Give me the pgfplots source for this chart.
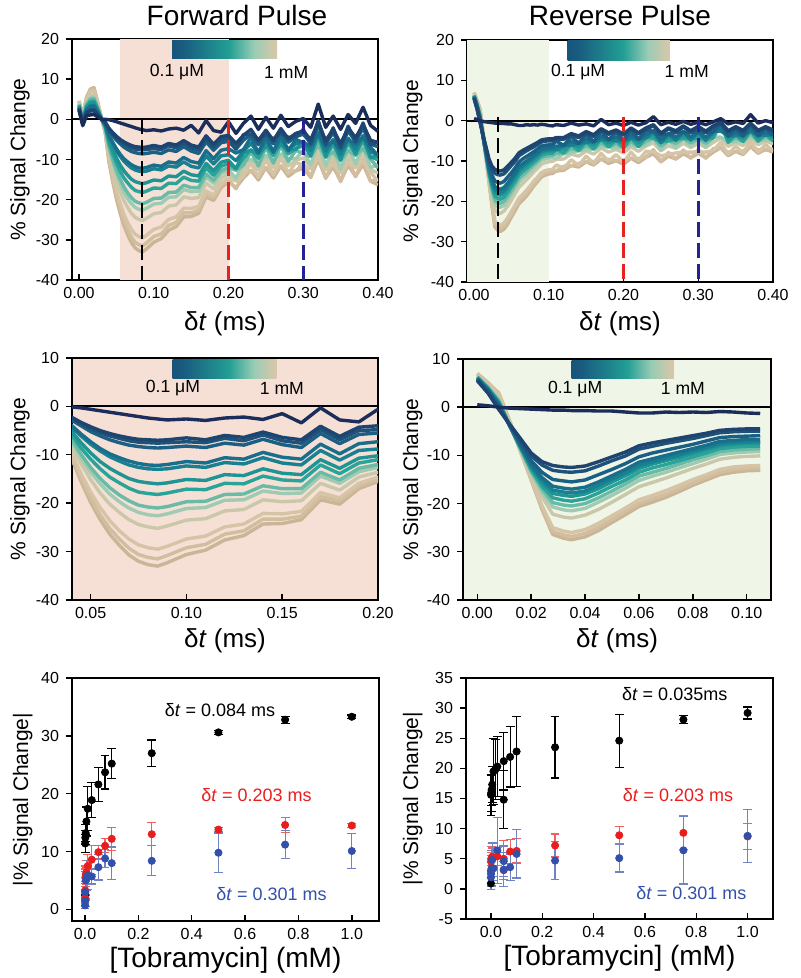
\documentclass[border=0pt]{standalone}
\usepackage{fontspec}
\setmainfont{Liberation Sans}
\usepackage{pgfplots}
\usepackage{pgfplotstable}
\pgfplotsset{compat=1.18}

\definecolor{col1}{RGB}{27,45,90}
\definecolor{col2}{RGB}{30,68,112}
\definecolor{col3}{RGB}{30,82,122}
\definecolor{col4}{RGB}{28,95,133}
\definecolor{col5}{RGB}{25,110,140}
\definecolor{col6}{RGB}{24,128,145}
\definecolor{col7}{RGB}{30,148,148}
\definecolor{col8}{RGB}{42,163,152}
\definecolor{col9}{RGB}{105,186,166}
\definecolor{col10}{RGB}{160,203,178}
\definecolor{col11}{RGB}{203,200,170}
\definecolor{col12}{RGB}{214,196,166}
\definecolor{col13}{RGB}{210,189,159}
\definecolor{col14}{RGB}{203,181,151}
\definecolor{pinkbg}{RGB}{246,224,214}
\definecolor{greenbg}{RGB}{240,246,231}
\definecolor{dred}{RGB}{232,33,30}
\definecolor{dblue}{RGB}{35,35,150}
\definecolor{pred}{RGB}{232,30,30}
\definecolor{pblue}{RGB}{50,80,170}

\pgfdeclarehorizontalshading{cbar}{100bp}{rgb(0bp)=(0.10,0.17,0.35); rgb(30bp)=(0.10,0.36,0.50); rgb(52bp)=(0.13,0.62,0.58); rgb(64bp)=(0.60,0.80,0.71); rgb(74bp)=(0.84,0.78,0.66); rgb(100bp)=(0.80,0.71,0.59)}

\pgfplotsset{
  panel/.style={
    scale only axis, anchor=south west,
    axis line style={line width=1pt},
    tick style={black, line width=0.7pt},
    major tick length=3pt,
    xtick align=inside, ytick align=outside, xtick pos=bottom, ytick pos=left,
    tick label style={font=\fontsize{8}{9}\selectfont},
    /pgf/number format/assume math mode=true,
    xlabel style={font=\fontsize{13}{15}\selectfont, inner sep=0pt, anchor=north},
    ylabel style={font=\fontsize{10.5}{12}\selectfont, inner sep=0pt, anchor=south},
  },
  trace/.style={line width=1.7pt, line join=round, color=col#1},
}

% forward pulse traces, lowest to highest concentration
\pgfplotstableread{
t c1 c2 c3 c4 c5 c6 c7 c8 c9 c10 c11 c12 c13 c14
0.000 2.2 2.6 2.6 2.7 3.0 3.0 3.3 3.5 3.7 3.8 4.0 4.4 4.5 4.6
0.005 -1.6 -1.2 -1.2 -1.1 -0.8 -0.8 -0.5 -0.3 -0.1 0.0 0.2 0.6 0.7 0.8
0.010 0.9 1.6 1.6 1.8 2.3 2.5 2.9 3.2 3.7 3.9 4.3 4.9 5.2 5.5
0.015 1.1 2.1 2.2 2.4 3.2 3.3 4.0 4.4 5.0 5.3 5.9 6.8 7.2 7.5
0.020 1.2 2.1 2.3 2.5 3.3 3.5 4.1 4.6 5.2 5.6 6.1 7.1 7.5 7.9
0.025 0.6 1.1 1.2 1.3 1.8 1.9 2.2 2.5 2.8 3.0 3.3 3.8 4.1 4.3
0.030 0.0 0.1 0.1 0.1 0.1 0.1 0.2 0.2 0.2 0.2 0.3 0.3 0.3 0.3
0.035 0.0 -0.7 -0.8 -0.9 -1.2 -1.3 -1.6 -1.8 -2.1 -2.3 -2.5 -3.0 -3.2 -3.3
0.040 -0.1 -2.2 -2.4 -2.8 -3.9 -4.2 -5.1 -5.8 -6.7 -7.2 -8.1 -9.4 -10.1 -10.6
0.045 -0.3 -3.3 -3.6 -4.0 -5.7 -6.1 -7.5 -8.6 -9.9 -10.6 -11.8 -13.9 -14.8 -15.5
0.050 -0.6 -4.2 -4.6 -5.2 -7.3 -7.8 -9.6 -10.9 -12.6 -13.6 -15.1 -17.7 -18.9 -19.8
0.055 -0.9 -5.0 -5.4 -6.1 -8.7 -9.2 -11.4 -12.9 -14.9 -16.0 -17.9 -20.9 -22.4 -23.4
0.060 -1.2 -5.6 -6.1 -6.9 -9.8 -10.4 -12.8 -14.6 -16.8 -18.1 -20.2 -23.6 -25.2 -26.4
0.065 -1.5 -6.1 -6.6 -7.5 -10.6 -11.3 -13.9 -15.8 -18.3 -19.7 -21.9 -25.7 -27.4 -28.7
0.070 -1.8 -6.5 -7.1 -8.0 -11.3 -12.1 -14.9 -16.9 -19.5 -21.0 -23.4 -27.4 -29.3 -30.7
0.075 -2.1 -6.8 -7.4 -8.3 -11.8 -12.6 -15.5 -17.7 -20.4 -21.9 -24.4 -28.6 -30.6 -32.0
0.080 -2.4 -6.9 -7.5 -8.5 -12.1 -12.9 -15.8 -18.0 -20.8 -22.4 -24.9 -29.2 -31.2 -32.7
0.085 -2.6 -7.0 -7.6 -8.6 -12.2 -13.0 -16.0 -18.2 -21.0 -22.6 -25.2 -29.5 -31.5 -33.0
0.090 -2.8 -6.9 -7.5 -8.5 -12.0 -12.9 -15.8 -17.9 -20.7 -22.2 -24.7 -28.9 -30.8 -32.3
0.100 -2.6 -6.5 -7.3 -8.2 -11.4 -12.3 -15.1 -17.1 -19.7 -21.1 -23.5 -27.4 -29.2 -30.6
0.110 -2.9 -6.9 -7.5 -8.5 -11.7 -12.6 -15.3 -17.2 -19.6 -20.9 -23.2 -26.8 -28.5 -29.7
0.120 -2.4 -6.0 -6.6 -7.6 -10.6 -11.6 -14.1 -15.9 -18.2 -19.4 -21.6 -24.9 -26.4 -27.6
0.130 -2.2 -6.4 -7.1 -8.0 -10.9 -11.9 -14.3 -16.0 -18.1 -19.3 -21.3 -24.3 -25.7 -26.7
0.140 -2.7 -5.3 -5.9 -6.8 -9.5 -10.6 -12.9 -14.4 -16.4 -17.5 -19.3 -22.1 -23.3 -24.3
0.150 -1.5 -6.4 -7.1 -7.9 -10.5 -11.7 -13.8 -15.2 -17.0 -18.0 -19.7 -22.2 -23.3 -24.2
0.160 -3.4 -6.9 -7.6 -8.5 -10.9 -12.1 -14.1 -15.4 -17.0 -17.9 -19.5 -21.7 -22.7 -23.4
0.170 -0.3 -4.1 -4.8 -5.6 -7.8 -9.1 -11.0 -12.1 -13.6 -14.4 -15.9 -17.8 -18.6 -19.3
0.180 -2.8 -6.2 -6.9 -7.7 -9.8 -11.1 -12.8 -13.9 -15.2 -15.9 -17.3 -18.9 -19.5 -20.2
0.190 -3.2 -4.3 -5.0 -5.8 -7.7 -9.1 -10.7 -11.7 -12.8 -13.5 -14.6 -15.9 -16.5 -17.0
0.200 -0.6 -4.0 -4.8 -5.5 -7.3 -8.8 -10.2 -11.0 -12.0 -12.6 -13.6 -14.6 -15.1 -15.5
0.210 -3.5 -6.0 -7.4 -7.4 -8.4 -10.3 -12.3 -12.3 -12.7 -14.7 -15.0 -15.4 -17.3 -17.0
0.220 -1.0 -4.0 -3.8 -5.2 -7.5 -7.9 -8.3 -9.7 -11.4 -10.6 -12.4 -14.2 -13.4 -14.6
0.230 0.8 -2.5 -3.7 -3.7 -4.5 -6.0 -7.7 -7.6 -8.0 -10.0 -10.4 -10.8 -12.9 -12.7
0.240 -2.5 -5.3 -5.0 -6.3 -8.4 -8.4 -8.5 -9.7 -11.6 -10.8 -12.6 -14.5 -13.8 -15.1
0.250 0.5 -2.7 -3.7 -3.5 -4.2 -5.3 -6.7 -6.4 -6.9 -9.0 -9.4 -9.9 -12.1 -12.0
0.260 -2.2 -5.3 -4.9 -6.1 -8.2 -7.9 -7.9 -9.0 -10.9 -10.2 -12.0 -13.9 -13.3 -14.6
0.270 1.0 -2.3 -3.3 -3.1 -3.8 -4.9 -6.3 -6.0 -6.5 -8.6 -9.0 -9.5 -11.7 -11.6
0.280 -1.8 -4.9 -4.5 -5.7 -7.8 -7.5 -7.5 -8.6 -10.5 -9.8 -11.6 -13.5 -12.9 -14.2
0.290 -0.5 -3.5 -4.5 -4.3 -5.0 -6.1 -7.5 -7.2 -7.7 -9.8 -10.2 -10.7 -12.9 -12.8
0.300 0.2 -2.9 -2.5 -3.7 -5.8 -5.5 -5.5 -6.6 -8.5 -7.8 -9.6 -11.5 -10.9 -12.2
0.310 -2.0 -5.1 -6.1 -5.9 -6.6 -7.7 -9.1 -8.8 -9.3 -11.4 -11.8 -12.3 -14.5 -14.4
0.320 3.8 -0.7 -0.3 -1.5 -3.6 -3.3 -3.3 -4.4 -6.3 -5.6 -7.4 -9.3 -8.7 -10.0
0.330 -2.0 -5.3 -6.3 -6.1 -6.8 -7.9 -9.3 -9.0 -9.5 -11.6 -12.0 -12.5 -14.7 -14.6
0.340 0.8 -2.5 -2.1 -3.3 -5.4 -5.1 -5.1 -6.2 -8.1 -7.4 -9.2 -11.1 -10.5 -11.8
0.350 -2.5 -6.1 -7.1 -6.9 -7.6 -8.7 -10.1 -9.8 -10.3 -12.4 -12.8 -13.3 -15.5 -15.4
0.360 1.2 -2.1 -1.7 -2.9 -5.0 -4.7 -4.7 -5.8 -7.7 -7.0 -8.8 -10.7 -10.1 -11.4
0.370 -1.0 -4.6 -5.6 -5.5 -6.2 -7.3 -8.7 -8.5 -9.0 -11.1 -11.5 -12.1 -14.3 -14.2
0.380 3.0 -1.3 -0.9 -2.2 -4.4 -4.1 -4.1 -5.3 -7.3 -6.6 -8.4 -10.4 -9.9 -11.2
0.390 -1.5 -5.2 -6.3 -6.2 -7.0 -8.1 -9.6 -9.3 -9.9 -12.0 -12.5 -13.2 -15.4 -15.4
0.400 -3.0 -5.8 -5.5 -6.8 -9.0 -8.8 -8.9 -10.1 -12.1 -11.4 -13.4 -15.4 -14.9 -16.3
}\fwd

% reverse pulse traces
\pgfplotstableread{
t c1 c2 c3 c4 c5 c6 c7 c8 c9 c10 c11 c12 c13 c14
0.000 0.5 5.5 5.6 5.8 5.9 6.0 6.1 6.2 6.3 6.4 6.5 6.8 6.9 7.0
0.004 0.3 2.9 3.0 3.3 3.6 3.7 3.8 3.9 4.1 4.2 4.5 4.9 5.0 5.1
0.008 0.0 -0.5 -0.3 0.2 0.5 0.7 0.9 1.1 1.3 1.5 1.9 2.6 2.8 2.9
0.012 -0.2 -3.5 -3.6 -3.8 -3.8 -3.8 -3.8 -3.8 -3.8 -3.7 -3.5 -3.1 -2.9 -2.8
0.016 -0.3 -6.5 -6.8 -7.5 -7.9 -8.1 -8.2 -8.4 -8.6 -8.7 -8.9 -9.1 -9.1 -9.1
0.020 -0.4 -9.5 -10.1 -11.1 -11.8 -12.2 -12.5 -12.9 -13.3 -13.6 -14.1 -14.8 -15.0 -15.1
0.024 -0.5 -11.3 -12.0 -13.5 -14.6 -15.2 -15.7 -16.4 -17.0 -17.7 -18.6 -20.4 -20.8 -21.2
0.028 -0.6 -12.1 -13.1 -15.0 -16.4 -17.2 -17.9 -18.8 -19.8 -20.7 -22.2 -25.0 -25.8 -26.4
0.032 -0.6 -12.4 -13.4 -15.3 -16.8 -17.6 -18.3 -19.3 -20.3 -21.3 -22.8 -25.7 -26.5 -27.2
0.035 -0.7 -12.5 -13.5 -15.5 -17.0 -17.8 -18.5 -19.5 -20.5 -21.5 -23.0 -26.0 -26.8 -27.5
0.040 -0.7 -12.2 -13.2 -15.1 -16.6 -17.4 -18.0 -19.0 -20.0 -21.0 -22.4 -25.4 -26.2 -26.9
0.045 -0.8 -11.3 -12.2 -14.0 -15.5 -16.2 -16.9 -17.8 -18.8 -19.7 -21.2 -24.1 -24.9 -25.6
0.050 -0.8 -10.3 -11.1 -12.9 -14.2 -14.9 -15.5 -16.4 -17.4 -18.3 -19.7 -22.5 -23.3 -23.9
0.055 -1.0 -9.3 -10.1 -11.7 -12.9 -13.6 -14.2 -15.1 -15.9 -16.8 -18.1 -20.9 -21.6 -22.3
0.060 -1.2 -8.0 -8.7 -10.3 -11.4 -12.1 -12.7 -13.5 -14.3 -15.2 -16.5 -19.2 -20.0 -20.6
0.065 -1.2 -7.4 -8.1 -9.5 -10.7 -11.3 -11.8 -12.6 -13.5 -14.3 -15.6 -18.3 -19.0 -19.7
0.070 -1.0 -6.9 -7.5 -8.9 -10.0 -10.6 -11.1 -11.9 -12.7 -13.5 -14.7 -17.3 -18.1 -18.7
0.075 -1.1 -6.4 -7.0 -8.3 -9.3 -9.9 -10.4 -11.1 -11.8 -12.6 -13.7 -16.2 -16.9 -17.5
0.080 -1.0 -5.9 -6.5 -7.7 -8.6 -9.1 -9.6 -10.3 -10.9 -11.7 -12.7 -15.0 -15.7 -16.2
0.085 -1.1 -5.4 -5.9 -7.0 -7.9 -8.4 -8.8 -9.5 -10.1 -10.8 -11.8 -14.0 -14.6 -15.1
0.090 -0.9 -4.8 -5.3 -6.3 -7.1 -7.6 -8.0 -8.6 -9.2 -9.8 -10.8 -12.9 -13.5 -14.0
0.095 -1.0 -4.6 -5.1 -6.1 -6.9 -7.3 -7.7 -8.3 -8.9 -9.5 -10.4 -12.4 -13.0 -13.5
0.100 -1.2 -4.5 -5.0 -6.0 -6.7 -7.2 -7.5 -8.1 -8.7 -9.3 -10.2 -12.2 -12.7 -13.2
0.105 -1.3 -4.5 -5.0 -5.9 -6.7 -7.1 -7.5 -8.1 -8.6 -9.2 -10.1 -12.1 -12.6 -13.1
0.110 -1.0 -4.2 -4.6 -5.1 -6.3 -7.2 -7.1 -7.1 -8.2 -9.3 -9.6 -11.0 -12.5 -12.5
0.120 -1.2 -4.2 -4.6 -6.1 -6.2 -6.1 -7.0 -8.0 -8.1 -8.2 -9.5 -11.8 -11.3 -12.3
0.130 -0.6 -3.2 -3.6 -4.0 -5.2 -6.1 -5.9 -5.9 -7.0 -8.0 -8.3 -9.7 -11.2 -11.1
0.140 -1.1 -3.8 -4.2 -5.6 -5.7 -5.6 -6.4 -7.4 -7.4 -7.5 -8.8 -11.1 -10.6 -11.5
0.150 -0.8 -2.7 -3.1 -3.4 -4.5 -5.4 -5.2 -5.2 -6.2 -7.2 -7.5 -8.8 -10.3 -10.2
0.160 -1.3 -3.5 -3.9 -5.2 -5.3 -5.2 -6.0 -7.0 -7.0 -7.0 -8.3 -10.6 -10.1 -11.0
0.170 0.3 -2.0 -2.4 -2.7 -3.8 -4.7 -4.5 -4.5 -5.5 -6.5 -6.8 -8.1 -9.6 -9.5
0.180 -1.0 -3.0 -3.4 -4.7 -4.8 -4.7 -5.5 -6.5 -6.5 -6.5 -7.8 -10.1 -9.6 -10.6
0.190 -0.6 -2.3 -2.7 -3.0 -4.1 -5.0 -4.8 -4.8 -5.8 -6.8 -7.1 -8.4 -9.9 -9.9
0.200 -1.2 -3.3 -3.6 -4.9 -5.0 -4.9 -5.7 -6.7 -6.7 -6.7 -8.0 -10.3 -9.8 -10.8
0.210 -0.4 -1.8 -2.1 -2.4 -3.5 -4.4 -4.2 -4.2 -5.2 -6.2 -6.5 -7.8 -9.3 -9.3
0.220 -1.1 -3.0 -3.3 -4.6 -4.7 -4.6 -5.4 -6.4 -6.4 -6.4 -7.6 -9.9 -9.4 -10.4
0.230 -0.5 -1.8 -2.1 -2.4 -3.4 -4.3 -4.1 -4.1 -5.1 -6.1 -6.3 -7.6 -9.1 -9.1
0.240 1.0 -1.0 -1.3 -2.6 -2.7 -2.5 -3.3 -4.3 -4.3 -4.3 -5.5 -7.7 -7.2 -8.2
0.250 -1.0 -3.1 -3.3 -3.6 -4.7 -5.5 -5.3 -5.3 -6.3 -7.3 -7.5 -8.7 -10.2 -10.2
0.260 -0.4 -1.8 -2.1 -3.3 -3.4 -3.2 -4.0 -5.0 -5.0 -4.9 -6.2 -8.4 -7.9 -8.8
0.270 -0.9 -2.5 -2.8 -3.0 -4.1 -4.9 -4.7 -4.6 -5.6 -6.6 -6.9 -8.0 -9.5 -9.5
0.280 -0.2 -1.3 -1.6 -2.8 -2.9 -2.7 -3.5 -4.4 -4.4 -4.4 -5.6 -7.8 -7.3 -8.2
0.290 -0.9 -2.5 -2.7 -2.9 -4.0 -4.8 -4.6 -4.5 -5.5 -6.4 -6.7 -7.8 -9.3 -9.2
0.300 -0.4 -1.4 -1.7 -2.8 -2.9 -2.7 -3.5 -4.4 -4.4 -4.3 -5.6 -7.7 -7.2 -8.1
0.310 -1.0 -2.6 -2.9 -3.0 -4.1 -4.9 -4.7 -4.6 -5.6 -6.5 -6.7 -7.8 -9.3 -9.2
0.320 -0.3 -1.3 -1.6 -2.7 -2.8 -2.6 -3.4 -4.3 -4.2 -4.1 -5.4 -7.4 -6.9 -7.8
0.330 0.5 -0.4 -0.7 -0.7 -1.8 -2.6 -0.6 -0.5 -1.0 -4.1 -4.3 -5.4 -6.8 -6.7
0.340 -0.8 -2.5 -2.8 -3.8 -3.9 -3.7 -4.5 -5.4 -5.3 -5.2 -6.4 -8.4 -7.8 -8.7
0.350 -0.3 -1.5 -1.8 -1.9 -2.9 -3.7 -3.5 -3.4 -4.3 -5.2 -5.4 -6.3 -7.7 -7.6
0.360 -0.7 -2.4 -2.7 -3.8 -3.8 -3.6 -4.3 -5.2 -5.1 -5.0 -6.2 -8.1 -7.5 -8.4
0.370 1.5 -0.6 -0.8 -0.9 -1.9 -2.7 -2.4 -2.3 -3.2 -4.1 -4.3 -5.1 -6.5 -6.4
0.380 -0.6 -2.4 -2.7 -3.7 -3.7 -3.5 -4.2 -5.1 -5.0 -4.9 -6.0 -7.9 -7.2 -8.1
0.390 0.0 -1.5 -1.8 -1.8 -2.8 -3.6 -3.3 -3.2 -4.0 -4.9 -5.0 -5.9 -7.3 -7.1
0.400 -0.5 -2.3 -2.6 -3.6 -3.6 -3.4 -4.1 -5.0 -4.8 -4.7 -5.8 -7.6 -7.0 -7.8
}\rev

% |signal change| vs concentration, forward pulse
\pgfplotstableread{
x y e
0.0001 2.5 0.8
0.0005 11.4 1.5
0.001 12.4 1.2
0.0025 13.2 1.5
0.005 15.2 2.5
0.01 17.4 3.8
0.025 18.9 3.0
0.05 21.6 3.0
0.075 23.7 2.9
0.1 25.2 2.6
0.25 27.0 2.3
0.5 30.6 0.3
0.75 32.8 0.6
1.0 33.3 0.3
}\fblack
\pgfplotstableread{
x y e
0.0001 2.0 1.0
0.0005 3.3 1.5
0.001 5.5 1.5
0.0025 6.0 1.5
0.005 6.4 2.0
0.01 7.5 2.0
0.025 8.6 2.5
0.05 9.9 1.2
0.075 11.0 1.2
0.1 12.2 2.0
0.25 13.0 2.0
0.5 13.8 0.4
0.75 14.6 1.3
1.0 14.5 0.3
}\fred
\pgfplotstableread{
x y e
0.0001 0.7 0.6
0.0005 1.5 1.0
0.001 3.0 1.5
0.0025 5.0 1.5
0.005 5.3 2.0
0.01 5.9 2.5
0.025 5.7 1.3
0.05 7.3 2.2
0.075 8.8 1.5
0.1 8.0 2.8
0.25 8.4 2.6
0.5 9.8 3.4
0.75 11.2 2.4
1.0 10.1 3.0
}\fblue

% reverse pulse
\pgfplotstableread{
x y e
0.0001 0.9 1.0
0.0005 15.6 3.4
0.001 15.9 3.0
0.0025 16.4 2.5
0.005 17.3 3.0
0.01 19.5 5.5
0.0175 19.8 5.0
0.025 20.3 5.0
0.05 21.2 4.8
0.05 14.8 4.8
0.075 21.9 5.0
0.1 22.8 5.8
0.25 23.5 5.1
0.5 24.6 4.4
0.75 28.1 0.7
1.0 29.2 1.0
}\rblack
\pgfplotstableread{
x y e
0.0001 3.0 2.5
0.0005 4.5 1.5
0.001 5.0 2.0
0.005 5.3 1.5
0.01 5.2 1.5
0.025 5.4 1.5
0.05 3.1 1.5
0.05 5.0 3.0
0.075 6.2 2.0
0.1 6.3 2.0
0.25 7.2 1.9
0.5 8.9 1.4
0.75 9.3 2.8
1.0 8.7 2.1
}\rred
\pgfplotstableread{
x y e
0.0001 1.9 2.0
0.0005 2.5 2.0
0.001 3.0 2.5
0.0025 3.4 3.0
0.005 4.8 2.8
0.01 3.4 2.0
0.025 6.4 5.5
0.05 3.2 2.8
0.05 4.6 2.5
0.075 3.6 2.2
0.1 5.8 4.0
0.25 4.7 3.1
0.5 5.1 2.3
0.75 6.4 5.6
1.0 8.8 4.4
}\rblue

\begin{document}
\begin{tikzpicture}
\useasboundingbox (0pt,0pt) rectangle (400pt,489pt);

\node[anchor=base, font=\fontsize{14}{16}\selectfont] at (118.5pt,476pt) {Forward Pulse};
\node[anchor=base, font=\fontsize{14}{16}\selectfont] at (310pt,476pt) {Reverse Pulse};

% ---- top left
\begin{axis}[panel, at={(36pt,349pt)}, width=153pt, height=120.5pt,
  xmin=-0.0094, xmax=0.40, ymin=-40, ymax=20,
  xtick={0,0.1,0.2,0.3,0.4}, ytick={-40,-30,-20,-10,0,10,20},
  xticklabel style={/pgf/number format/.cd, fixed, fixed zerofill, precision=2},
  xlabel={δ\textit{t} (ms)}, ylabel={\% Signal Change},
  xlabel style={at={(axis description cs:0.5,-0.129)}},
  ylabel style={at={(axis description cs:-0.137,0.5)}},
]
\fill[pinkbg] (axis cs:0.055,-40) rectangle (axis cs:0.2,20);
\draw[black, line width=1pt] (axis cs:-0.0094,0) -- (axis cs:0.4,0);
\pgfplotsinvokeforeach{14,13,...,1}{\addplot[trace=#1] table[x=t,y=c#1]{\fwd};}
\draw[black, line width=1.3pt, dash pattern=on 7.5pt off 3pt] (axis cs:0.084,0) -- (axis cs:0.084,-40);
\draw[dred, line width=1.3pt, dash pattern=on 7.5pt off 3pt] (axis cs:0.2,0) -- (axis cs:0.2,-40);
\draw[dblue, line width=1.3pt, dash pattern=on 7.5pt off 3pt] (axis cs:0.3,0) -- (axis cs:0.3,-40);
\shade[shading=cbar] (rel axis cs:0.327,0.921) rectangle (rel axis cs:0.67,0.992);
\node[font=\fontsize{8.8}{10}\selectfont] at (rel axis cs:0.343,0.863) {0.1 μM};
\node[font=\fontsize{8.8}{10}\selectfont] at (rel axis cs:0.70,0.863) {1 mM};
\end{axis}

% ---- top right
\begin{axis}[panel, at={(233.5pt,348pt)}, width=153pt, height=121pt,
  xmin=-0.0094, xmax=0.40, ymin=-40, ymax=20,
  xtick={0,0.1,0.2,0.3,0.4}, ytick={-40,-30,-20,-10,0,10,20},
  xticklabel style={/pgf/number format/.cd, fixed, fixed zerofill, precision=2},
  xlabel={δ\textit{t} (ms)}, ylabel={\% Signal Change},
  xlabel style={at={(axis description cs:0.5,-0.12)}},
  ylabel style={at={(axis description cs:-0.144,0.5)}},
]
\fill[greenbg] (axis cs:-0.0094,-40) rectangle (axis cs:0.1,20);
\draw[black, line width=1pt] (axis cs:-0.0094,0) -- (axis cs:0.4,0);
\pgfplotsinvokeforeach{14,13,...,1}{\addplot[trace=#1] table[x=t,y=c#1]{\rev};}
\draw[black, line width=1.3pt, dash pattern=on 7.5pt off 3pt] (axis cs:0.032,1) -- (axis cs:0.032,-40);
\draw[dred, line width=1.3pt, dash pattern=on 7.5pt off 3pt] (axis cs:0.2,1) -- (axis cs:0.2,-40);
\draw[dblue, line width=1.3pt, dash pattern=on 7.5pt off 3pt] (axis cs:0.3,1) -- (axis cs:0.3,-40);
\shade[shading=cbar] (rel axis cs:0.329,0.917) rectangle (rel axis cs:0.663,0.997);
\node[font=\fontsize{8.8}{10}\selectfont] at (rel axis cs:0.363,0.868) {0.1 μM};
\node[font=\fontsize{8.8}{10}\selectfont] at (rel axis cs:0.718,0.868) {1 mM};
\end{axis}

% ---- middle left
\begin{axis}[panel, at={(36pt,189pt)}, width=153pt, height=121pt,
  xmin=0.0403, xmax=0.20, ymin=-40, ymax=10,
  xtick={0.05,0.10,0.15,0.20}, ytick={-40,-30,-20,-10,0,10},
  xticklabel style={/pgf/number format/.cd, fixed, fixed zerofill, precision=2},
  xlabel={δ\textit{t} (ms)}, ylabel={\% Signal Change},
  xlabel style={at={(axis description cs:0.5,-0.116)}},
  ylabel style={at={(axis description cs:-0.137,0.5)}},
  axis background/.style={fill=pinkbg},
]
\draw[black, line width=1pt] (axis cs:0.0403,0) -- (axis cs:0.2,0);
\pgfplotsinvokeforeach{14,13,...,1}{\addplot[trace=#1] table[x=t,y=c#1]{\fwd};}
\shade[shading=cbar] (rel axis cs:0.329,0.916) rectangle (rel axis cs:0.669,0.995);
\node[font=\fontsize{8.8}{10}\selectfont] at (rel axis cs:0.33,0.876) {0.1 μM};
\node[font=\fontsize{8.8}{10}\selectfont] at (rel axis cs:0.686,0.876) {1 mM};
\end{axis}

% ---- middle right
\begin{axis}[panel, at={(231.5pt,189pt)}, width=154pt, height=120.5pt,
  xmin=-0.0053, xmax=0.109, ymin=-40, ymax=10,
  xtick={0,0.02,0.04,0.06,0.08,0.10}, ytick={-40,-30,-20,-10,0,10},
  xticklabel style={/pgf/number format/.cd, fixed, fixed zerofill, precision=2},
  xlabel={δ\textit{t} (ms)}, ylabel={\% Signal Change},
  xlabel style={at={(axis description cs:0.5,-0.116)}},
  ylabel style={at={(axis description cs:-0.13,0.5)}},
  axis background/.style={fill=greenbg},
]
\draw[black, line width=1pt] (axis cs:-0.0053,0) -- (axis cs:0.109,0);
\pgfplotsinvokeforeach{14,13,...,1}{\addplot[trace=#1, restrict x to domain=-1:0.106] table[x=t,y=c#1]{\rev};}
\shade[shading=cbar] (rel axis cs:0.353,0.917) rectangle (rel axis cs:0.685,0.995);
\node[font=\fontsize{8.8}{10}\selectfont] at (rel axis cs:0.364,0.876) {0.1 μM};
\node[font=\fontsize{8.8}{10}\selectfont] at (rel axis cs:0.714,0.876) {1 mM};
\end{axis}

% ---- bottom left
\begin{axis}[panel, at={(36pt,28.5pt)}, width=153.5pt, height=121.5pt,
  xmin=-0.049, xmax=1.102, ymin=-2, ymax=40,
  xtick={0,0.2,0.4,0.6,0.8,1.0}, ytick={0,10,20,30,40},
  xticklabel style={/pgf/number format/.cd, fixed, fixed zerofill, precision=1},
  xlabel={\relax [Tobramycin] (mM)}, ylabel={|\% Signal Change|},
  xlabel style={at={(axis description cs:0.5,-0.107)}, font=\fontsize{14}{16}\selectfont},
  ylabel style={at={(axis description cs:-0.127,0.5)}},
  error bars/error bar style={line width=0.6pt},
  error bars/error mark options={rotate=90, mark size=2.2pt, line width=0.6pt},
]
\addplot[only marks, mark=*, mark size=1.8pt, color=black,
  error bars/.cd, y dir=both, y explicit] table[x=x, y=y, y error=e]{\fblack};
\addplot[only marks, mark=*, mark size=1.8pt, color=pred,
  error bars/.cd, y dir=both, y explicit, error bar style={color=pred!70}] table[x=x, y=y, y error=e]{\fred};
\addplot[only marks, mark=*, mark size=1.8pt, color=pblue,
  error bars/.cd, y dir=both, y explicit, error bar style={color=pblue!70}] table[x=x, y=y, y error=e]{\fblue};
\node[font=\fontsize{9}{10}\selectfont, black] at (axis cs:0.506,34.4) {δ\textit{t} = 0.084 ms};
\node[font=\fontsize{9}{10}\selectfont, pred] at (axis cs:0.643,19.7) {δ\textit{t} = 0.203 ms};
\node[font=\fontsize{9}{10}\selectfont, pblue] at (axis cs:0.699,2.7) {δ\textit{t} = 0.301 ms};
\end{axis}

% ---- bottom right
\begin{axis}[panel, at={(233pt,29.5pt)}, width=153.5pt, height=120.5pt,
  xmin=-0.097, xmax=1.099, ymin=-5, ymax=35,
  xtick={0,0.2,0.4,0.6,0.8,1.0}, ytick={-5,0,5,10,15,20,25,30,35},
  xticklabel style={/pgf/number format/.cd, fixed, fixed zerofill, precision=1},
  xlabel={\relax [Tobramycin] (mM)}, ylabel={|\% Signal Change|},
  xlabel style={at={(axis description cs:0.5,-0.107)}, font=\fontsize{14}{16}\selectfont},
  ylabel style={at={(axis description cs:-0.14,0.5)}},
  error bars/error bar style={line width=0.6pt},
  error bars/error mark options={rotate=90, mark size=2.2pt, line width=0.6pt},
]
\addplot[only marks, mark=*, mark size=1.8pt, color=black,
  error bars/.cd, y dir=both, y explicit] table[x=x, y=y, y error=e]{\rblack};
\addplot[only marks, mark=*, mark size=1.8pt, color=pred,
  error bars/.cd, y dir=both, y explicit, error bar style={color=pred!70}] table[x=x, y=y, y error=e]{\rred};
\addplot[only marks, mark=*, mark size=1.8pt, color=pblue,
  error bars/.cd, y dir=both, y explicit, error bar style={color=pblue!70}] table[x=x, y=y, y error=e]{\rblue};
\node[font=\fontsize{9}{10}\selectfont, black] at (axis cs:0.716,32.4) {δ\textit{t} = 0.035ms};
\node[font=\fontsize{9}{10}\selectfont, pred] at (axis cs:0.729,15.6) {δ\textit{t} = 0.203 ms};
\node[font=\fontsize{9}{10}\selectfont, pblue] at (axis cs:0.781,-0.66) {δ\textit{t} = 0.301 ms};
\end{axis}
\end{tikzpicture}
\end{document}
